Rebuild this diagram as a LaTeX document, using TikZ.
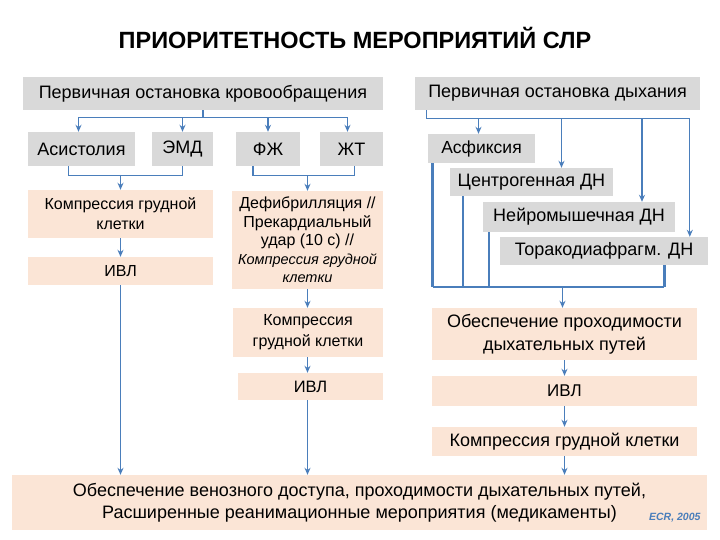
\documentclass[tikz,border=0pt]{standalone}
\usepackage{fontspec}
\setmainfont{Liberation Sans}
\usetikzlibrary{arrows.meta,calc}
\definecolor{gr}{HTML}{D9D9D9}
\definecolor{pe}{HTML}{FBE5D6}
\definecolor{ln}{HTML}{4A7EBB}
\begin{document}
\begin{tikzpicture}[x=1pt,y=-1pt,
  gbox/.style={fill=gr,inner sep=0pt,align=center,font=\fontsize{18}{21}\selectfont},
  pbox/.style={fill=pe,inner sep=0pt,align=center,font=\fontsize{18}{21}\selectfont},
  lnk/.style={draw=ln,line width=1.3pt},
  arr/.style={lnk,-{Stealth[length=7pt,width=6pt]}},
  thk/.style={draw=ln,line width=2.8pt},
  mid/.style={draw=ln,line width=2pt}]
\useasboundingbox[fill=white] (0,0) rectangle (720,540);
\node[font=\fontsize{23.5}{26}\selectfont\bfseries] (title) at (355,38) {ПРИОРИТЕТНОСТЬ МЕРОПРИЯТИЙ СЛР};
% gray boxes
\node[gbox,minimum width=360,minimum height=33] (p1) at (203,93.5) {Первичная остановка кровообращения};
\node[gbox,minimum width=285,minimum height=33] (p2) at (557.5,93.5) {Первичная остановка дыхания};
\node[gbox,minimum width=107,minimum height=34] (asi) at (81.5,149) {Асистолия};
\node[gbox,minimum width=61,minimum height=34] (emd) at (182.5,149) {ЭМД};
\node[gbox,minimum width=64,minimum height=34] (fzh) at (268,149) {ФЖ};
\node[gbox,minimum width=63,minimum height=34] (zht) at (351.5,149) {ЖТ};
\node[gbox,minimum width=107,minimum height=29,font=\fontsize{17.5}{20}\selectfont] (asf) at (481.5,148.5) {Асфиксия};
\node[gbox,minimum width=163,minimum height=28] (cen) at (531.5,182) {Центрогенная ДН};
\node[gbox,minimum width=192,minimum height=30] (nei) at (579,217) {Нейромышечная ДН};
\node[gbox,minimum width=208,minimum height=28] (tor) at (604,251) {Торакодиафрагм. ДН};
% peach boxes
\node[pbox,minimum width=185,minimum height=48,font=\fontsize{16}{20}\selectfont] (k1) at (120.5,214) {Компрессия грудной\\клетки};
\node[pbox,minimum width=185,minimum height=28,font=\fontsize{16}{18}\selectfont] (i1) at (120.5,271) {ИВЛ};
\node[pbox,minimum width=151,minimum height=98,font=\fontsize{16}{18.5}\selectfont] (def) at (307.5,240) {Дефибрилляция //\\Прекардиальный\\удар (10 с) //\\{\itshape\fontsize{14.5}{15.5}\selectfont Компрессия грудной}\\{\itshape\fontsize{14.5}{15.5}\selectfont клетки}};
\node[pbox,minimum width=150,minimum height=49,font=\fontsize{16}{21}\selectfont] (k2) at (308,332.5) {Компрессия\\грудной клетки};
\node[pbox,minimum width=145,minimum height=27,font=\fontsize{16.5}{18}\selectfont] (i2) at (310.5,386.5) {ИВЛ};
\node[pbox,minimum width=265,minimum height=52,font=\fontsize{18}{23}\selectfont] (ob) at (564.5,334) {Обеспечение проходимости\\дыхательных путей};
\node[pbox,minimum width=265,minimum height=30,font=\fontsize{17}{18}\selectfont] (i3) at (564.5,391) {ИВЛ};
\node[pbox,minimum width=265,minimum height=29,font=\fontsize{18}{20}\selectfont] (k3) at (564.5,441.5) {Компрессия грудной клетки};
\node[pbox,minimum width=695,minimum height=55,font=\fontsize{18}{22}\selectfont] (bot) at (359.5,502.5) {Обеспечение венозного доступа, проходимости дыхательных путей,\\Расширенные реанимационные мероприятия (медикаменты)};
\node[font=\fontsize{10.5}{12}\selectfont\itshape\bfseries,text=ln,anchor=east] (ecr) at (704,518) {ECR, 2005};
% P1 connectors
\draw[lnk] (p1.south) -- ++(0,7) coordinate (b1);
\coordinate (a1) at ($(b1 -| asi.south)+(-3,0)$);
\coordinate (a4) at ($(b1 -| zht.south)+(-4,0)$);
\draw[lnk] (a1) -- (a4);
\draw[arr] (a1) -- ($(asi.north)+(-3,0)$);
\draw[arr] (b1 -| emd.north) -- (emd.north);
\draw[arr] (b1 -| fzh.north) -- (fzh.north);
\draw[arr] (a4) -- ($(zht.north)+(-4,0)$);
% Asystole/EMD
\draw[lnk] ($(asi.south)+(-13,0)$) -- ++(0,9) -| (emd.south);
\draw[arr] (k1.north) ++(0,-15) -- (k1.north);
\draw[lnk] ($(fzh.south)+(-15,0)$) -- ++(0,9) -| ($(zht.south)+(3,0)$);
\draw[arr] (def.north) ++(0,-15) -- (def.north);
\draw[arr] (k1) -- (i1);
\draw[arr] (i1.south) -- (i1.south |- bot.north);
\draw[arr] (def.south) -- (def.south |- k2.north);
\draw[arr] (k2.south -| def.south) -- (i2.north -| def.south);
\draw[arr] (i2.south -| def.south) -- (bot.north -| def.south);
% P2 connectors
\draw[lnk] ($(p2.south west)+(12,0)$) -- ++(0,8) coordinate (b2) -- ($(b2)+(263,0)$) coordinate (b2e);
\draw[arr] ($(b2 -| asf.north)+(-3,0)$) -- ($(asf.north)+(-3,0)$);
\draw[arr] ($(b2 -| cen.north)+(30,0)$) -- ($(cen.north)+(30,0)$);
\draw[arr] ($(b2 -| nei.north)+(63,0)$) -- ($(nei.north)+(63,0)$);
\draw[arr] (b2e) -- (b2e |- tor.north);
% verticals
\coordinate (hb) at (0,287);
\coordinate (v1) at ($(asf.south west)+(5,0)$);
\coordinate (v2) at ($(cen.south west)+(13,0)$);
\coordinate (v3) at ($(nei.south west)+(6,0)$);
\coordinate (v4) at ($(tor.south east)+(-44,0)$);
\draw[thk] (v1) -- (v1 |- hb);
\draw[mid] (v2) -- (v2 |- hb);
\draw[mid] (v3) -- (v3 |- hb);
\draw[thk] (v4) -- (v4 |- hb);
\draw[lnk] (v1 |- hb) -- (v4 |- hb);
\draw[arr] ($(ob.north)+(-2,-21)$) -- ($(ob.north)+(-2,0)$);
\draw[arr] (ob) -- (i3);
\draw[arr] (i3) -- (k3);
\draw[arr] (k3.south) -- (k3.south |- bot.north);
\end{tikzpicture}
\end{document}
